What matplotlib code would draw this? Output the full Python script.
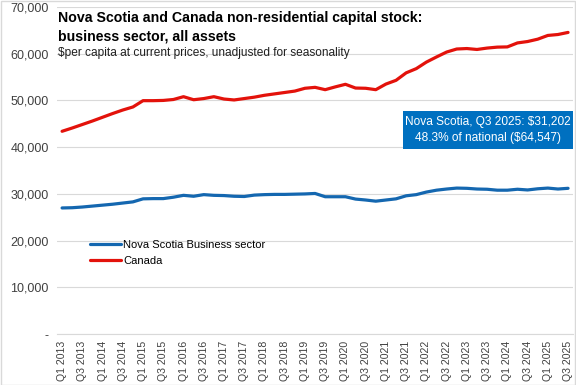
import matplotlib
matplotlib.use("Agg")
import matplotlib.pyplot as plt
from matplotlib.patches import Rectangle

plt.rcParams['font.family'] = ['Liberation Sans', 'DejaVu Sans']

# quarters Q1 2013 .. Q3 2025
quarters = []
for yr in range(2013, 2026):
    for q in range(1, 5):
        quarters.append("Q%d %d" % (q, yr))
quarters = quarters[:51]

nova_scotia = [27000, 27050, 27200, 27400, 27600, 27800, 28050, 28300, 28950, 29000,
               29000, 29300, 29700, 29500, 29850, 29700, 29650, 29500, 29450, 29750,
               29850, 29900, 29900, 29950, 30000, 30100, 29400, 29400, 29400, 28900,
               28700, 28450, 28700, 28950, 29600, 29850, 30400, 30800, 31050, 31250,
               31200, 31050, 31000, 30800, 30800, 31000, 30850, 31100, 31250, 31050,
               31202]
canada = [43400, 44100, 44850, 45600, 46400, 47200, 47950, 48600, 49950, 49950,
          50000, 50200, 50800, 50150, 50400, 50800, 50300, 50100, 50400, 50700,
          51100, 51400, 51700, 52000, 52600, 52800, 52300, 52900, 53450, 52650,
          52600, 52300, 53500, 54300, 55900, 56800, 58200, 59300, 60350, 61000,
          61100, 60900, 61200, 61400, 61450, 62300, 62600, 63100, 63900, 64100,
          64547]
yticks = [0, 10000, 20000, 30000, 40000, 50000, 60000, 70000]
ytick_labels = ['-', '10,000', '20,000', '30,000', '40,000', '50,000', '60,000', '70,000']

blue = '#1467B0'
red = '#E3120B'

fig = plt.figure(figsize=(5.76, 3.85), dpi=100)
ax = fig.add_axes([0.099, 0.132, 0.896, 0.85])

x = list(range(len(quarters)))
ax.plot(x, nova_scotia, color=blue, lw=2.3, label='Nova Scotia Business sector', solid_capstyle='round')
ax.plot(x, canada, color=red, lw=2.3, label='Canada', solid_capstyle='round')

ax.set_xlim(-0.5, len(quarters) - 0.5)
ax.set_ylim(0, 70000)
ax.set_yticks(yticks)
ax.set_yticklabels(ytick_labels, fontsize=9, color='#404040')
ax.set_xticks(x[::2])
ax.set_xticklabels(quarters[::2], rotation=90, fontsize=7.6, color='#404040')
ax.tick_params(length=0, pad=6)
ax.tick_params(axis='x', pad=5)
ax.grid(axis='y', color='#D9D9D9', lw=0.8)
ax.set_axisbelow(True)
for s in ['top', 'right', 'left']:
    ax.spines[s].set_visible(False)
ax.spines['bottom'].set_color('#D9D9D9')

ax.legend(loc='upper left', bbox_to_anchor=(0.045, 0.318), frameon=False, fontsize=8,
          handlelength=2.8, handletextpad=0.15, labelspacing=0.5)

fig.text(0.101, 0.972, 'Nova Scotia and Canada non-residential capital stock:\nbusiness sector, all assets',
         fontsize=10.2, fontweight='bold', va='top', ha='left', linespacing=1.42)
fig.text(0.101, 0.862, '$per capita at current prices, unadjusted for seasonality',
         fontsize=8.6, va='center', ha='left', color='#202020')

# annotation box
fig.patches.append(Rectangle((403 / 576, 1 - 149 / 385), 170 / 576, 38 / 385,
                             transform=fig.transFigure, facecolor='#0070C0', edgecolor='none'))
fig.text(488 / 576, 1 - 130 / 385, 'Nova Scotia, Q3 2025: $31,202\n48.3% of national ($64,547)',
         color='white', fontsize=8.6, ha='center', va='center', linespacing=1.4)

# outer border
fig.patches.append(Rectangle((0.001, 0.001), 0.997, 0.997, transform=fig.transFigure,
                             facecolor='none', edgecolor='#D9D9D9', lw=1))

fig.savefig('out.png', dpi=100)
